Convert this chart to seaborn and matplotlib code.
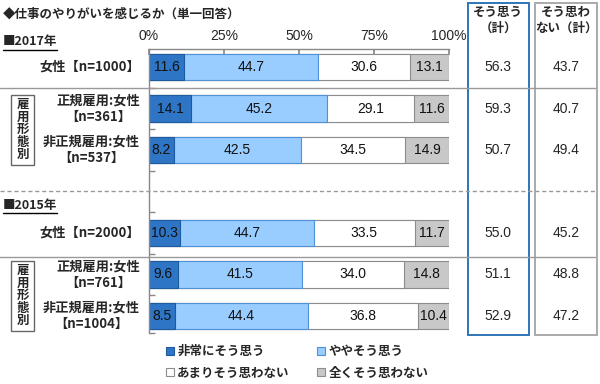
import matplotlib
matplotlib.use("Agg")
import matplotlib.pyplot as plt
import seaborn as sns
import pandas as pd
from matplotlib.patches import Rectangle, Patch
from matplotlib.lines import Line2D
from matplotlib.transforms import blended_transform_factory

# --- data ---
rows = ["2017_all", "2017_reg", "2017_non", "2015_all", "2015_reg", "2015_non"]
row_labels = ["女性【n=1000】", "正規雇用:女性\n【n=361】", "非正規雇用:女性\n【n=537】",
              "女性【n=2000】", "正規雇用:女性\n【n=761】", "非正規雇用:女性\n【n=1004】"]
categories = ["非常にそう思う", "ややそう思う", "あまりそう思わない", "全くそう思わない"]
very = [11.6, 14.1, 8.2, 10.3, 9.6, 8.5]
some = [44.7, 45.2, 42.5, 44.7, 41.5, 44.4]
not_much = [30.6, 29.1, 34.5, 33.5, 34.0, 36.8]
not_at_all = [13.1, 11.6, 14.9, 11.7, 14.8, 10.4]
agree_total = [56.3, 59.3, 50.7, 55.0, 51.1, 52.9]
disagree_total = [43.7, 40.7, 49.4, 45.2, 48.8, 47.2]

# empty slot between the two survey years
order = ["2017_all", "2017_reg", "2017_non", "gap", "2015_all", "2015_reg", "2015_non"]

fills = ["#2E75C6", "#99CCFF", "#FFFFFF", "#C8C8C8"]
edges = ["#1F5A9E", "#4F92D8", "#8C8C8C", "#8C8C8C"]

sns.set_theme(style="white")
plt.rcParams["font.family"] = ["Noto Sans CJK JP", "DejaVu Sans"]
NUM = ["Liberation Sans", "DejaVu Sans"]

df = pd.DataFrame({"row": rows, categories[0]: very, categories[1]: some,
                   categories[2]: not_much, categories[3]: not_at_all})
cum = df[categories].cumsum(axis=1)

W, H = 600, 384
fig = plt.figure(figsize=(6, 3.84), dpi=100)
ax = fig.add_axes([149 / W, 1 - 333 / H, 300 / W, (333 - 49) / H])

# stacked bars: draw cumulative totals from the longest down
for cat, fc, ec in reversed(list(zip(categories, fills, edges))):
    sns.barplot(x=cum[cat], y=df["row"], order=order, orient="h", color=fc,
                edgecolor=ec, linewidth=0.8, width=0.65, saturation=1,
                errorbar=None, ax=ax)

for i, r in enumerate(rows):
    slot = order.index(r)
    start = 0
    for cat in categories:
        v = df.loc[i, cat]
        ax.text(start + v / 2, slot, f"{v:.1f}", ha="center", va="center",
                fontsize=10, family=NUM, color="#111")
        start += v

ax.set_xlim(0, 100)
ax.set_ylim(6.41, -0.434)
ax.set_xlabel("")
ax.set_ylabel("")
ax.xaxis.tick_top()
ax.set_xticks([0, 25, 50, 75, 100])
ax.set_xticklabels(["0%", "25%", "50%", "75%", "100%"], family=NUM)
ax.tick_params(axis="x", direction="in", length=4, color="#888", labelsize=10, pad=4)
ax.set_yticks([])
ax.set_yticks([0.5, 1.5, 2.5, 3.5, 4.5, 5.5, 6.41], minor=True)
ax.tick_params(axis="y", which="minor", direction="in", length=4, color="#888", left=True)
for s in ["right", "bottom"]:
    ax.spines[s].set_visible(False)
for s in ["top", "left"]:
    ax.spines[s].set_color("#888")
    ax.spines[s].set_linewidth(1)

trans = blended_transform_factory(fig.transFigure, ax.transData)

# row labels and totals
for i, r in enumerate(rows):
    slot = order.index(r)
    fig.text(140 / W, slot, row_labels[i], transform=trans, ha="right", va="center",
             multialignment="center", fontsize=9.5, fontweight="bold", linespacing=1.2)
    fig.text(498 / W, slot, f"{agree_total[i]:.1f}", transform=trans, ha="center",
             va="center", fontsize=10, family=NUM)
    fig.text(566 / W, slot, f"{disagree_total[i]:.1f}", transform=trans, ha="center",
             va="center", fontsize=10, family=NUM)

# employment-type boxes
for y0 in [0.67, 4.67]:
    fig.add_artist(Rectangle((11 / W, y0), 23 / W, 1.69, transform=trans,
                             fc="white", ec="#666", lw=1))
    fig.text(22.5 / W, y0 + 0.845, "雇\n用\n形\n態\n別", transform=trans, ha="center",
             va="center", fontsize=9, fontweight="bold", linespacing=0.95)

# separators
for y, ls in [(0.5, "-"), (3.0, (0, (3, 2))), (4.58, "-")]:
    fig.add_artist(Line2D([0, 595 / W], [y, y], transform=trans, color="#999",
                          lw=1, ls=ls))

# total columns
fig.add_artist(Rectangle((468 / W, 1 - 335 / H), 61 / W, 332 / H,
                         transform=fig.transFigure, fill=False, ec="#2E75B6", lw=1.4))
fig.add_artist(Rectangle((535 / W, 1 - 335 / H), 62 / W, 332 / H,
                         transform=fig.transFigure, fill=False, ec="#AAAAAA", lw=1.4))
fig.text(498 / W, 1 - 20 / H, "そう思う\n（計）", ha="center", va="center",
         fontsize=9, fontweight="bold", linespacing=1.3)
fig.text(566 / W, 1 - 20 / H, "そう思わ\nない（計）", ha="center", va="center",
         fontsize=9, fontweight="bold", linespacing=1.3)

# headings
fig.text(3 / W, 1 - 14 / H, "◆仕事のやりがいを感じるか（単一回答）", ha="left",
         va="center", fontsize=9, fontweight="bold")
heads = [fig.text(3 / W, 1 - 42 / H, "■2017年", ha="left", va="center",
                  fontsize=9, fontweight="bold"),
         fig.text(3 / W, 1 - 205 / H, "■2015年", ha="left", va="center",
                  fontsize=9, fontweight="bold")]
fig.canvas.draw()
for t in heads:
    bb = t.get_window_extent()
    y = (bb.y0 - 1) / H
    fig.add_artist(Line2D([bb.x0 / W, bb.x1 / W], [y, y], transform=fig.transFigure,
                          color="black", lw=1))

# legend
handles = [Patch(fc=fills[k], ec=edges[k], lw=0.8) for k in [0, 2, 1, 3]]
labels = [categories[k] for k in [0, 2, 1, 3]]
fig.legend(handles, labels, ncol=2, loc="upper left",
           bbox_to_anchor=(166 / W, 1 - 345 / H), frameon=False, borderpad=0,
           borderaxespad=0, handlelength=0.6, handleheight=0.6, handletextpad=0.3,
           labelspacing=0.7, columnspacing=2.2,
           prop={"family": ["Noto Sans CJK JP", "DejaVu Sans"], "weight": "bold", "size": 9})

fig.savefig("out.png", dpi=100)
